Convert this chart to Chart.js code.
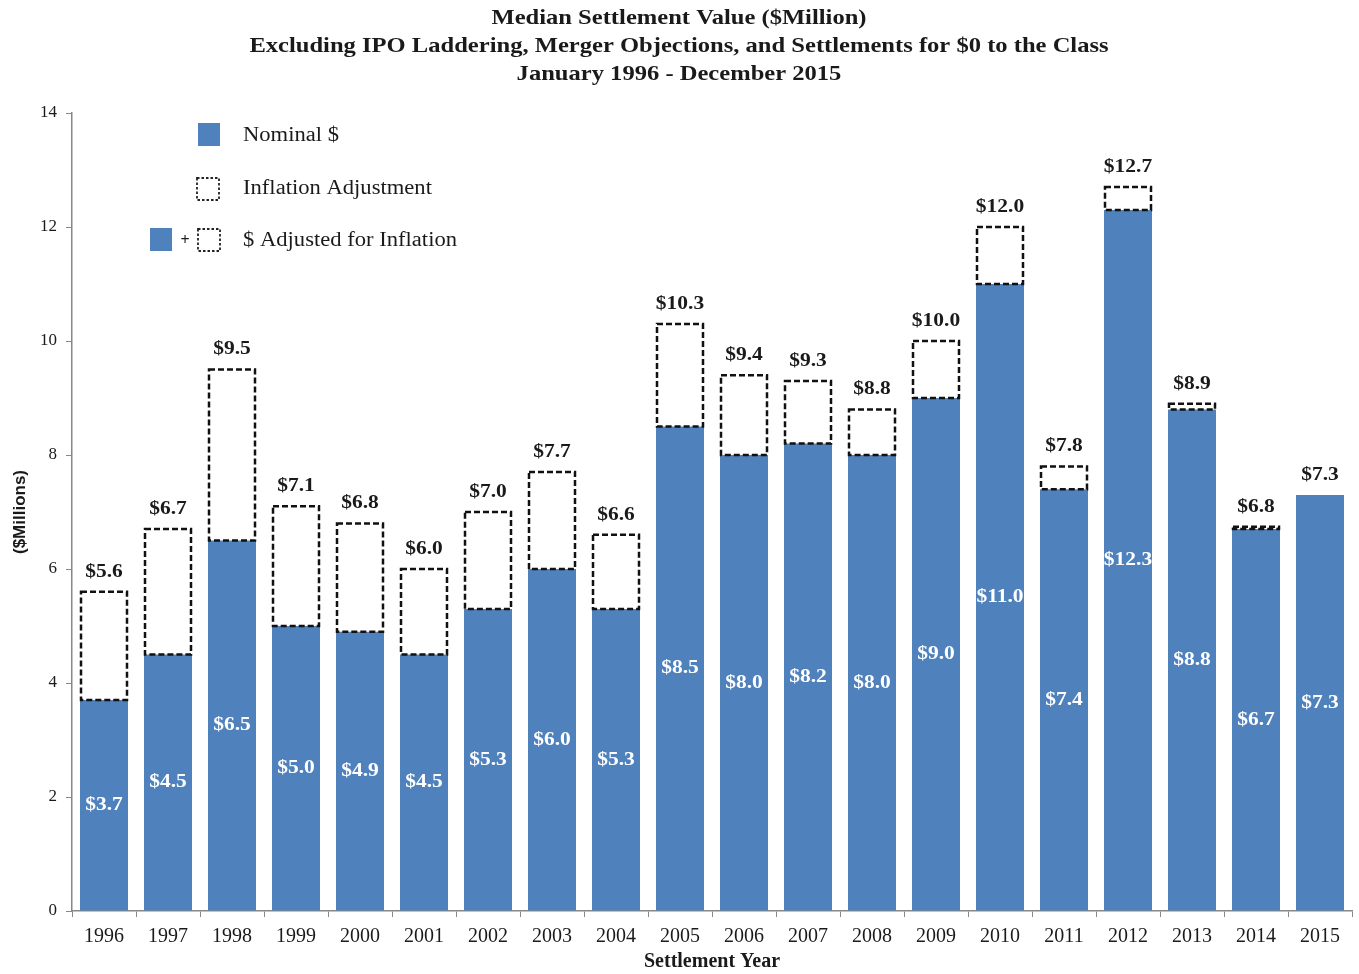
<!DOCTYPE html>
<html><head><meta charset="utf-8">
<script src="https://cdn.jsdelivr.net/npm/chart.js@4.4.1/dist/chart.umd.min.js"></script>
<style>html,body{margin:0;padding:0;background:#fff;}#wrap{width:1359px;height:974px;position:relative;}</style>
</head><body><div id="wrap"><canvas id="c" width="1359" height="974"></canvas></div>
<script>
const years = ['1996','1997','1998','1999','2000','2001','2002','2003','2004','2005','2006','2007','2008','2009','2010','2011','2012','2013','2014','2015'];
const nominal = [3.7,4.5,6.5,5.0,4.9,4.5,5.3,6.0,5.3,8.5,8.0,8.2,8.0,9.0,11.0,7.4,12.3,8.8,6.7,7.3];
const adjustment = [1.9,2.2,3.0,2.1,1.9,1.5,1.7,1.7,1.3,1.8,1.4,1.1,0.8,1.0,1.0,0.4,0.4,0.1,0.04,0];
const totals = [5.6,6.7,9.5,7.1,6.8,6.0,7.0,7.7,6.6,10.3,9.4,9.3,8.8,10.0,12.0,7.8,12.7,8.9,6.8,7.3];
const titleLines = ['Median Settlement Value ($Million)','Excluding IPO Laddering, Merger Objections, and Settlements for $0 to the Class','January 1996 - December 2015'];
const legendLabels = ['Nominal $','Inflation Adjustment','$ Adjusted for Inflation'];

const BLUE = '#4F81BD';
const SERIF = '"Liberation Serif", "Times New Roman", serif';

function stretchText(ctx, text, x, y, sx) {
  ctx.save();
  ctx.translate(x, y);
  ctx.scale(sx, 1);
  ctx.fillText(text, 0, 0);
  ctx.restore();
}

const overlay = {
  id: 'overlay',
  afterDatasetsDraw(chart) {
    const ctx = chart.ctx;
    const m0 = chart.getDatasetMeta(0), m1 = chart.getDatasetMeta(1);
    ctx.save();
    ctx.strokeStyle = '#111';
    ctx.lineWidth = 2.5;
    ctx.setLineDash([6,3]);
    m1.data.forEach((bar, i) => {
      if (!adjustment[i]) return;
      const p = bar.getProps(['x','y','base','width'], true);
      const l = p.x - p.width/2;
      ctx.strokeRect(l + 1, p.y, p.width - 2, p.base - p.y);
    });
    ctx.setLineDash([]);
    ctx.font = 'bold 19px ' + SERIF;
    ctx.textAlign = 'center';
    ctx.textBaseline = 'middle';
    ctx.fillStyle = '#fff';
    m0.data.forEach((bar, i) => {
      const p = bar.getProps(['x','y','base'], true);
      stretchText(ctx, '$' + nominal[i].toFixed(1), p.x, (p.y + p.base)/2, 1.13);
    });
    ctx.fillStyle = '#1a1a1a';
    m1.data.forEach((bar, i) => {
      const p = bar.getProps(['x','y'], true);
      stretchText(ctx, '$' + totals[i].toFixed(1), p.x, p.y - 20, 1.13);
    });
    ctx.restore();
  },
  afterDraw(chart) {
    const ctx = chart.ctx;
    ctx.save();
    ctx.fillStyle = '#1a1a1a';
    ctx.textAlign = 'center';
    ctx.textBaseline = 'middle';
    ctx.font = 'bold 21px ' + SERIF;
    titleLines.forEach((t, i) => stretchText(ctx, t, 679, 19 + i * 28, 1.17));
    // legend
    ctx.textAlign = 'left';
    ctx.font = '20px ' + SERIF;
    ctx.fillStyle = BLUE;
    ctx.fillRect(198, 123, 22, 23);
    ctx.fillRect(150, 228, 22, 23);
    ctx.strokeStyle = '#222';
    ctx.lineWidth = 1.8;
    ctx.setLineDash([2.5,2]);
    ctx.strokeRect(197, 178, 22, 22);
    ctx.strokeRect(198, 229, 22, 22);
    ctx.setLineDash([]);
    ctx.fillStyle = '#1a1a1a';
    stretchText(ctx, legendLabels[0], 243, 136, 1.13);
    stretchText(ctx, legendLabels[1], 243, 189, 1.13);
    stretchText(ctx, legendLabels[2], 243, 241, 1.13);
    ctx.font = 'bold 16px ' + SERIF;
    ctx.textAlign = 'center';
    ctx.fillText('+', 185, 241);
    ctx.restore();
  }
};

new Chart(document.getElementById('c'), {
  type: 'bar',
  data: {
    labels: years,
    datasets: [
      { label: legendLabels[0], data: nominal, backgroundColor: BLUE, borderWidth: 0, barPercentage: 0.75, categoryPercentage: 1 },
      { label: legendLabels[1], data: adjustment, backgroundColor: 'rgba(255,255,255,0)', borderWidth: 0, barPercentage: 0.75, categoryPercentage: 1 }
    ]
  },
  options: {
    responsive: false,
    animation: false,
    devicePixelRatio: 1,
    layout: { padding: { top: 113, right: 7, left: 0, bottom: 0 } },
    plugins: { legend: { display: false }, title: { display: false }, tooltip: { enabled: false } },
    scales: {
      x: {
        stacked: true,
        grid: { drawOnChartArea: false, drawTicks: true, tickLength: 6, color: '#888', offset: true },
        border: { color: '#888', width: 1.5 },
        ticks: { color: '#1a1a1a', font: { family: SERIF, size: 20 }, padding: 8, maxRotation: 0, autoSkip: false },
        title: { display: true, text: 'Settlement Year', color: '#1a1a1a', font: { family: SERIF, size: 20, weight: 'bold' }, padding: { top: 0, bottom: 0 } },
        afterFit(s) { s.height = 63; }
      },
      y: {
        stacked: true,
        min: 0, max: 14,
        grid: { drawOnChartArea: false, drawTicks: true, tickLength: 6, color: '#888' },
        border: { color: '#888', width: 1.5 },
        ticks: { stepSize: 2, color: '#1a1a1a', font: { family: SERIF, size: 17 }, padding: 9 },
        title: { display: true, text: '($Millions)', color: '#1a1a1a', font: { family: '"Liberation Sans", Arial, sans-serif', size: 17, weight: 'bold' }, padding: { top: 10, bottom: 0 } },
        afterFit(s) { s.width = 72; }
      }
    }
  },
  plugins: [overlay]
});
</script></body></html>
